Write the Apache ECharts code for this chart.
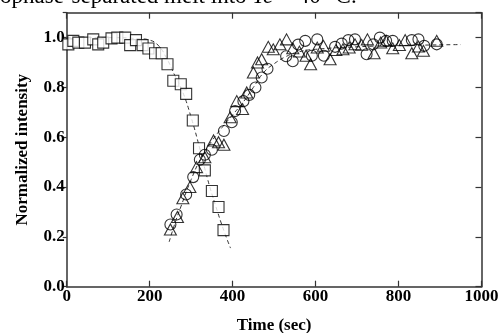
<!DOCTYPE html>
<html>
<head>
<meta charset="utf-8">
<script src="https://cdn.jsdelivr.net/npm/echarts@6/dist/echarts.min.js"></script>
<style>
  html, body { margin: 0; padding: 0; background: #fff; }
  #chart { width: 503px; height: 333px; }
</style>
</head>
<body>
<div id="chart"></div>
<script>
// melt (squares): [time, intensity]
const meltPoints = [
  [4, 0.973], [16, 0.987], [28, 0.98], [44, 0.98], [64, 0.993], [76, 0.973],
  [88, 0.98], [108, 0.997], [122, 1.0], [141, 1.0], [153, 0.97], [167, 0.99],
  [183, 0.97], [197, 0.956], [213, 0.937], [229, 0.937], [243, 0.893],
  [257, 0.827], [275, 0.813], [288, 0.774], [304, 0.667], [319, 0.556],
  [333, 0.467], [350, 0.384], [366, 0.32], [378, 0.227]
]
// growth run A (circles)
const circlePoints = [
  [250, 0.25], [265, 0.29], [288, 0.37], [305, 0.44], [321, 0.51], [333, 0.53],
  [350, 0.55], [379, 0.625], [398, 0.66], [406, 0.705], [426, 0.745],
  [440, 0.77], [455, 0.80], [470, 0.84], [484, 0.875], [529, 0.925],
  [545, 0.905], [558, 0.972], [575, 0.987], [591, 0.927], [604, 0.993],
  [620, 0.927], [647, 0.963], [663, 0.976], [679, 0.99], [695, 0.993],
  [723, 0.933], [739, 0.973], [755, 1.0], [770, 0.987], [786, 0.987],
  [832, 0.99], [848, 0.993], [862, 0.967], [892, 0.973]
]
// growth run B (triangles)
const trianglePoints = [
  [250, 0.23], [267, 0.28], [280, 0.355], [297, 0.40], [313, 0.48], [333, 0.52],
  [354, 0.587], [366, 0.58], [379, 0.57], [394, 0.68], [410, 0.745],
  [424, 0.713], [434, 0.78], [450, 0.86], [460, 0.90], [470, 0.913],
  [486, 0.963], [498, 0.953], [514, 0.973], [530, 0.993], [545, 0.957],
  [561, 0.944], [577, 0.927], [588, 0.893], [604, 0.96], [619, 0.967],
  [635, 0.913], [649, 0.95], [666, 0.953], [681, 0.96], [695, 0.973],
  [711, 0.971], [725, 0.993], [741, 0.937], [757, 0.98], [770, 0.987],
  [786, 0.957], [802, 0.97], [816, 0.99], [832, 0.937], [848, 0.964],
  [860, 0.947], [892, 0.987]
]
// dashed fit curves
const decayFit = [
  [0, 1.0], [100, 1.0], [180, 0.995], [200, 0.99], [220, 0.97], [240, 0.92],
  [260, 0.85], [280, 0.78], [300, 0.68], [320, 0.56], [340, 0.43],
  [360, 0.32], [380, 0.22], [395, 0.155]
]
const riseFit = [
  [247, 0.18], [262, 0.26], [275, 0.32], [300, 0.43], [325, 0.52], [350, 0.585],
  [375, 0.64], [400, 0.69], [425, 0.74], [450, 0.80], [475, 0.86],
  [500, 0.895], [530, 0.925], [560, 0.943], [600, 0.953], [700, 0.963],
  [800, 0.968], [950, 0.972]
]

const xTicks = [0, 200, 400, 600, 800, 1000]
const yTicks = [0, 0.2, 0.4, 0.6, 0.8, 1.0]

const chart = echarts.init(document.getElementById('chart'), null, { renderer: 'canvas' })

const axisColor = '#333'
const font = 'Liberation Serif'
const triangle = 'path://M0,10 L5,0 L10,10 Z'

const option = {
  backgroundColor: '#fff',
  animation: false,
  grid: { left: 66.7, right: 21.5, top: 12.7, bottom: 46.3, outerBoundsMode: 'none' },
  graphic: [{
    type: 'text',
    left: 0,
    top: -15,
    style: {
      text: 'ophase-separated melt into {i|Tc} = 40 °C.',
      font: '23px "Liberation Serif"',
      fill: '#000',
      rich: { i: { fontStyle: 'italic', fontFamily: font, fontSize: 23 } }
    }
  }],
  xAxis: [{
    type: 'value', min: 0, max: 1000, interval: 200,
    name: 'Time (sec)', nameLocation: 'middle', nameGap: 30,
    nameTextStyle: { fontFamily: font, fontWeight: 'bold', fontSize: 17, color: '#000' },
    axisLine: { show: true, onZero: false, lineStyle: { color: axisColor, width: 1.5 } },
    axisTick: { inside: true, length: 6, lineStyle: { color: axisColor, width: 1.2 } },
    axisLabel: {
      fontFamily: font, fontWeight: 'bold', fontSize: 17, color: '#000', margin: 1,
      formatter: v => xTicks.includes(v) ? String(v) : ''
    },
    splitLine: { show: false }
  }, {
    type: 'value', position: 'top', min: 0, max: 1000, interval: 200,
    axisLine: { show: true, onZero: false, lineStyle: { color: axisColor, width: 1.5 } },
    axisTick: { inside: true, length: 6, lineStyle: { color: axisColor, width: 1.2 } },
    axisLabel: { show: false },
    splitLine: { show: false }
  }],
  yAxis: [{
    type: 'value', min: 0, max: 1.1, interval: 0.2,
    name: 'Normalized intensity', nameLocation: 'middle', nameGap: 36,
    nameTextStyle: { fontFamily: font, fontWeight: 'bold', fontSize: 17, color: '#000' },
    axisLine: { show: true, onZero: false, lineStyle: { color: axisColor, width: 1.5 } },
    axisTick: { inside: false, length: 4, lineStyle: { color: axisColor, width: 1.2 } },
    axisLabel: {
      fontFamily: font, fontWeight: 'bold', fontSize: 17, color: '#000', margin: 2,
      formatter: v => yTicks.some(t => Math.abs(t - v) < 1e-6) ? v.toFixed(1) : ''
    },
    splitLine: { show: false }
  }, {
    type: 'value', position: 'right', min: 0, max: 1.1, interval: 0.2,
    axisLine: { show: true, onZero: false, lineStyle: { color: axisColor, width: 1.5 } },
    axisTick: { inside: true, length: 6, lineStyle: { color: axisColor, width: 1.2 } },
    axisLabel: { show: false },
    splitLine: { show: false }
  }],
  series: [
    {
      type: 'line', data: decayFit, smooth: true, symbol: 'none',
      lineStyle: { color: '#333', width: 1, type: [4, 3] }, z: 1
    },
    {
      type: 'line', data: riseFit, smooth: true, symbol: 'none',
      lineStyle: { color: '#333', width: 1, type: [4, 3] }, z: 1
    },
    {
      type: 'scatter', data: meltPoints, symbol: 'rect', symbolSize: 11,
      itemStyle: { color: '#fff', borderColor: '#000', borderWidth: 1.1 }, z: 3
    },
    {
      type: 'scatter', data: circlePoints, symbol: 'circle', symbolSize: 11,
      itemStyle: { color: 'rgba(255,255,255,0)', borderColor: '#000', borderWidth: 1.1 }, z: 3
    },
    {
      type: 'scatter', data: trianglePoints, symbol: triangle, symbolSize: [12, 11],
      itemStyle: { color: 'rgba(255,255,255,0)', borderColor: '#000', borderWidth: 1.1 }, z: 3
    }
  ]
}

chart.setOption(option)
</script>
</body>
</html>
